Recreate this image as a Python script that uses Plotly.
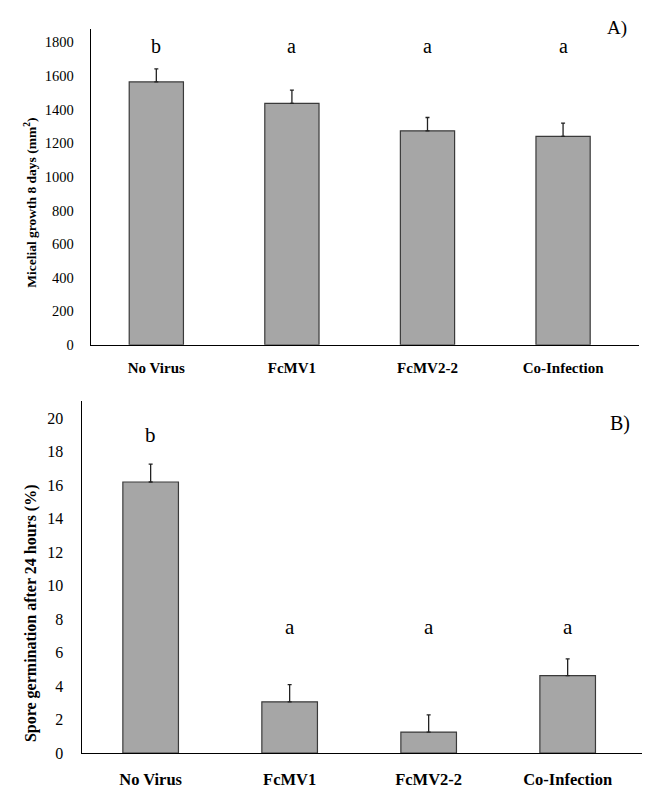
import plotly.graph_objects as go

# data
categories = ["No Virus", "FcMV1", "FcMV2-2", "Co-Infection"]

micelial_growth = [1565, 1437, 1274, 1241]
micelial_err = [78, 79, 79, 78]
micelial_letters = ["b", "a", "a", "a"]

spore_germination = [16.2, 3.07, 1.26, 4.63]
spore_err = [1.07, 1.03, 1.03, 1.0]
spore_letters = ["b", "a", "a", "a"]

W, H = 650, 798
serif = "Liberation Serif"
bar_fill = "#a6a6a6"
bar_line = "#3a3a3a"

fig = go.Figure()

# panel A
fig.add_trace(go.Bar(
    x=categories, y=micelial_growth, xaxis="x", yaxis="y",
    width=0.4, marker=dict(color=bar_fill, line=dict(color=bar_line, width=1.2)),
    error_y=dict(type="data", array=micelial_err, arrayminus=[0]*4, symmetric=False,
                 color="#222222", thickness=1.3, width=2),
    showlegend=False, hoverinfo="x+y"))

# panel B
fig.add_trace(go.Bar(
    x=categories, y=spore_germination, xaxis="x2", yaxis="y2",
    width=0.4, marker=dict(color=bar_fill, line=dict(color=bar_line, width=1.2)),
    error_y=dict(type="data", array=spore_err, arrayminus=[0]*4, symmetric=False,
                 color="#222222", thickness=1.3, width=2),
    showlegend=False, hoverinfo="x+y"))

ann = []
for c, l in zip(categories, micelial_letters):
    ann.append(dict(x=c, y=1780, xref="x", yref="y", text=l, showarrow=False,
                    font=dict(family=serif, size=20, color="black")))
for c, l in zip(categories, spore_letters):
    yv = 19.0 if l == "b" else 7.55
    ann.append(dict(x=c, y=yv, xref="x2", yref="y2", text=l, showarrow=False,
                    font=dict(family=serif, size=21, color="black")))

ann.append(dict(x=609/W, y=1-20/H, xref="paper", yref="paper", text="A)", showarrow=False,
                xanchor="center", yanchor="middle",
                font=dict(family=serif, size=19, color="black")))
ann.append(dict(x=612/W, y=1-420/H, xref="paper", yref="paper", text="B)", showarrow=False,
                xanchor="center", yanchor="middle",
                font=dict(family=serif, size=20, color="black")))

# y-axis titles
ann.append(dict(x=23/W, y=1-197/H, xref="paper", yref="paper", textangle=-90,
                xanchor="center", yanchor="middle",
                text="<b>Micelial growth 8 days (mm<sup>2</sup>)</b>", showarrow=False,
                font=dict(family=serif, size=13.5, color="black")))
ann.append(dict(x=23/W, y=1-612/H, xref="paper", yref="paper", textangle=-90,
                xanchor="center", yanchor="middle",
                text="<b>Spore germination after 24 hours (%)</b>", showarrow=False,
                font=dict(family=serif, size=16, color="black")))

fig.update_layout(
    width=W, height=H, autosize=False,
    margin=dict(l=0, r=0, t=0, b=0),
    paper_bgcolor="white", plot_bgcolor="white",
    font=dict(family=serif, color="black"),
    annotations=ann,
    xaxis=dict(domain=[82.7/W, 631/W], range=[-0.484, 3.56], anchor="y",
               showline=True, linecolor="black", linewidth=1.3, showgrid=False,
               ticks="", ticklabelstandoff=9,
               tickfont=dict(family=serif, size=15, color="black", weight="bold")),
    yaxis=dict(domain=[1-340.7/H, 1-21.7/H], range=[0, 1877], anchor="x",
               showline=True, linecolor="black", linewidth=1.3, showgrid=False,
               tickvals=list(range(0, 1801, 200)), ticks="", ticklabelstandoff=13,
               zeroline=False,
               tickfont=dict(family=serif, size=14.5, color="black")),
    xaxis2=dict(domain=[73.7/W, 635.7/W], range=[-0.496, 3.547], anchor="y2",
                showline=True, linecolor="black", linewidth=1.3, showgrid=False,
                ticks="", ticklabelstandoff=11,
                tickfont=dict(family=serif, size=16.5, color="black", weight="bold")),
    yaxis2=dict(domain=[1-753.7/H, 1-397.3/H], range=[0, 21.05], anchor="x2",
                showline=True, linecolor="black", linewidth=1.3, showgrid=False,
                tickvals=list(range(0, 21, 2)), ticks="", ticklabelstandoff=14,
                zeroline=False,
                tickfont=dict(family=serif, size=16, color="black")),
)

fig.write_html("out.html")
